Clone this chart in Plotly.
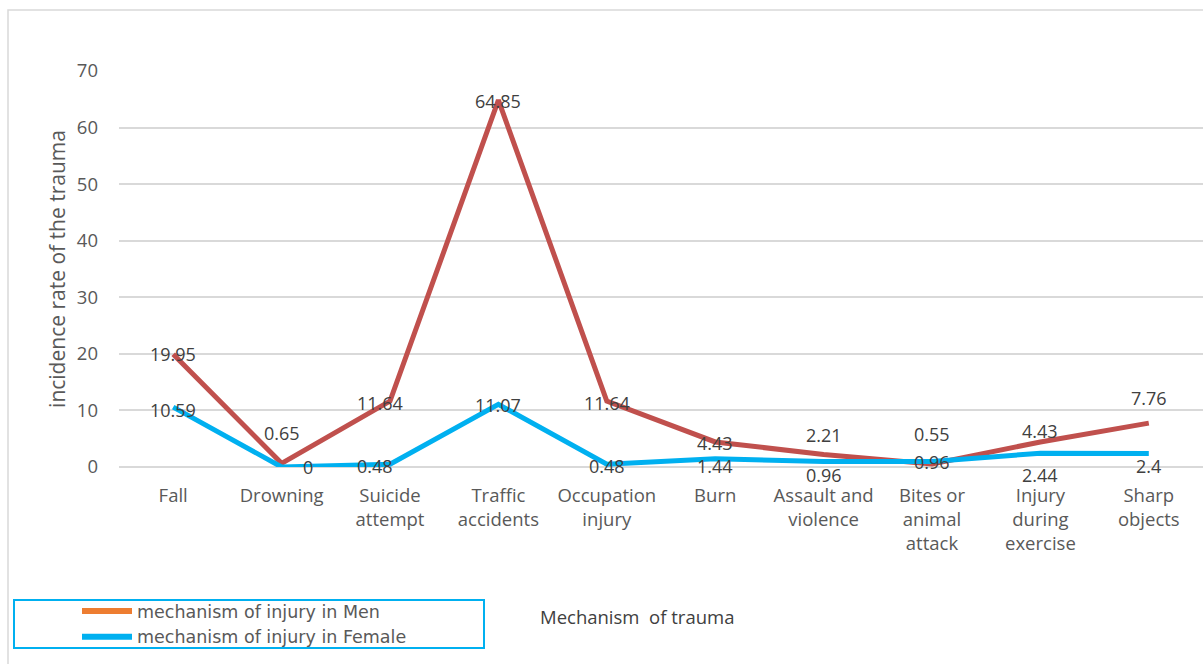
import plotly.graph_objects as go

categories = ["Fall", "Drowning", "Suicide<br>attempt", "Traffic<br>accidents", "Occupation<br>injury",
              "Burn", "Assault and<br>violence", "Bites or<br>animal<br>attack", "Injury<br>during<br>exercise",
              "Sharp<br>objects"]
men = [19.95, 0.65, 11.64, 64.85, 11.64, 4.43, 2.21, 0.55, 4.43, 7.76]
female = [10.59, 0, 0.48, 11.07, 0.48, 1.44, 0.96, 0.96, 2.44, 2.4]
yticks = [0, 10, 20, 30, 40, 50, 60, 70]

# label offsets (px)
men_dx = [0, 0, -10, 0, 0, 0, 0, 0, 0, 0]
men_dy = [0, 30, -2, -1, -2, -1, 20, 30, 11, 25]
fem_dx = [0, 26, -15, 0, 0, 0, 0, 0, 0, 0]
fem_dy = [-3, 0, -2, -1, -2, -7, -13, 0, -22, -13]

RED = "#C0504D"
BLUE = "#00B0F0"
ORANGE = "#ED7D31"
W, H = 1203, 664
L, R, T, B = 119, 0, 71, 197
pw, ph = W - L - R, H - T - B

def px2x(p):
    return (p - L) / pw

def py2y(p):
    return (H - B - p) / ph

fig = go.Figure()
fig.add_trace(go.Scatter(x=categories, y=men, mode="lines", line=dict(color=RED, width=5),
                         showlegend=False, cliponaxis=False))
fig.add_trace(go.Scatter(x=categories, y=female, mode="lines", line=dict(color=BLUE, width=5),
                         showlegend=False, cliponaxis=False))
fig.add_trace(go.Scatter(x=[None], y=[None], mode="lines", line=dict(color=ORANGE, width=6),
                         name="mechanism of injury in Men"))
fig.add_trace(go.Scatter(x=[None], y=[None], mode="lines", line=dict(color=BLUE, width=6),
                         name="mechanism of injury in Female"))

LBL = dict(size=18, color="#404040", family="Open Sans")
ann = []
for i, c in enumerate(categories):
    ann.append(dict(x=c, y=men[i], text=f"{men[i]:g}", showarrow=False, xshift=men_dx[i], yshift=men_dy[i],
                    font=LBL))
    ann.append(dict(x=c, y=female[i], text=f"{female[i]:g}", showarrow=False, xshift=fem_dx[i], yshift=fem_dy[i],
                    font=LBL))
ann.append(dict(xref="paper", yref="paper", x=px2x(637), y=py2y(631), text="Mechanism  of trauma",
                showarrow=False, font=dict(size=18.5, color="#404040", family="Open Sans")))
fig.update_layout(annotations=ann)

fig.add_shape(type="rect", xref="paper", yref="paper", x0=px2x(8), x1=px2x(1215), y0=py2y(10), y1=py2y(680),
              line=dict(color="#D9D9D9", width=1.5), layer="below")
fig.add_shape(type="rect", xref="paper", yref="paper", x0=px2x(14), x1=px2x(484), y0=py2y(600), y1=py2y(648),
              line=dict(color=BLUE, width=2))

fig.update_layout(
    width=W, height=H,
    margin=dict(l=L, r=R, t=T, b=B),
    paper_bgcolor="white", plot_bgcolor="white",
    font=dict(family="Open Sans", color="#595959", size=18),
    xaxis=dict(type="category", range=[-0.5, 9.5], showgrid=False, showline=False, zeroline=False,
               tickfont=dict(size=18.5, color="#595959"), ticks="", ticklabelstandoff=15),
    yaxis=dict(range=[0, 70], tickvals=yticks, showgrid=True, gridcolor="#D9D9D9", gridwidth=1.5,
               zeroline=True, zerolinecolor="#D9D9D9", zerolinewidth=1.5, showline=False,
               tickfont=dict(size=18.5, color="#595959"), ticklabelstandoff=20,
               title=dict(text="incidence rate of the trauma", font=dict(size=21, color="#595959"), standoff=5)),
    legend=dict(x=px2x(77), y=py2y(593), xanchor="left", yanchor="top", bgcolor="rgba(0,0,0,0)",
                font=dict(family="DejaVu Sans", size=17.5, color="#595959"), tracegroupgap=0, itemwidth=50),
    showlegend=True,
)

fig.write_html("out.html", config={"displayModeBar": False},
               post_script="document.body.style.margin='0';")
